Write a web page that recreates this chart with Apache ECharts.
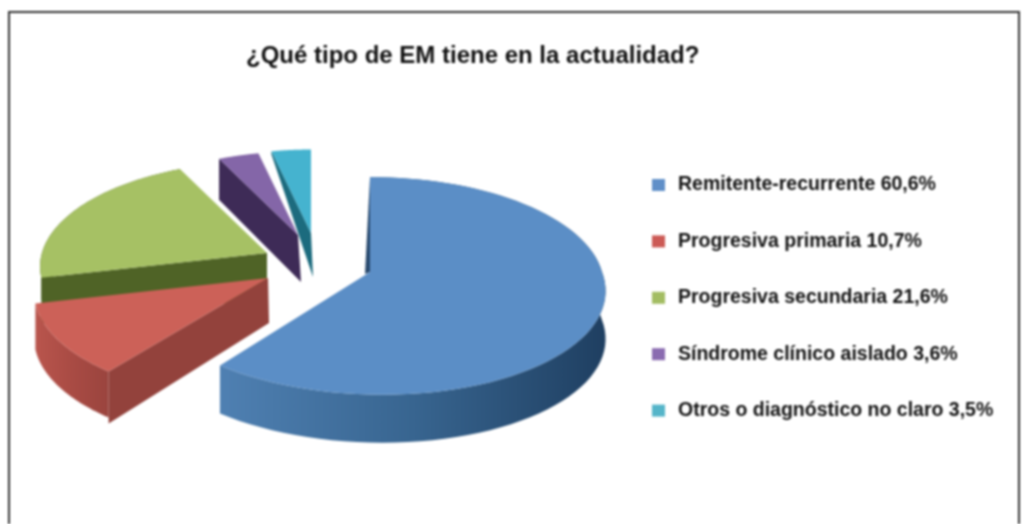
<!DOCTYPE html>
<html>
<head>
<meta charset="utf-8">
<title>Tipo de EM</title>
<script src="https://cdn.jsdelivr.net/npm/echarts@6/dist/echarts.min.js"></script>
<style>
  html, body { margin: 0; padding: 0; background: #fff; }
  #chart { width: 1025px; height: 524px; filter: blur(0.8px); }
</style>
</head>
<body>
<div id="chart"></div>
<script>
var titleText = '¿Qué tipo de EM tiene en la actualidad?';
var categories = ['Remitente-recurrente', 'Progresiva primaria', 'Progresiva secundaria', 'Síndrome clínico aislado', 'Otros o diagnóstico no claro'];
var percentText = ['60,6%', '10,7%', '21,6%', '3,6%', '3,5%'];
var values = [60.6, 10.7, 21.6, 3.6, 3.5];

// look of the exploded 3d slices, one row per slice
var topColors = ['#5b8ec6', '#cc6158', '#a6c164', '#8466a8', '#45b3cf'];
var legendColors = ['#5f8fc8', '#cc5a55', '#a3bd62', '#8a6bb0', '#55b5c9'];
var sideStops = [
  ['#4f80b2', '#386590', '#1f3f61'],
  ['#b9554d', '#a94b44', '#9a443e'],
  ['#4f6326', '#4f6326', '#4f6326']
];
var wallColors = ['#28496e', '#93423c', '#4f6326', '#3e2b57', '#1c6b7e'];
var apexX = [370, 268, 267, 298, 311];
var apexY = [272, 278, 253, 235, 233];
var scales = [1, 1, 0.97, 0.88, 0.88];
var depths = [48, 46, 46, 42, 44];
var shears = [0.1, 0, 0, 0, 0];
var layers = [5, 4, 3, 2, 1];
// cut wall of each slice: depth at rim, depth at apex, apex shift
var walls = [[0, 2, -5], [52, 45, 1], [46, 46, 0], [41, 47, 3], [3, 44, 2]];

var radiusX = 232, tiltY = 107, persp = 0.128;

function project(i, frac) {
  var a = frac * 2 * Math.PI;
  var X = Math.sin(a), Y = -Math.cos(a);
  var den = 1 - persp * Y;
  var y = tiltY * Y / den * scales[i];
  var x = radiusX * X / den * scales[i] + shears[i] * Math.max(y, 0);
  return [apexX[i] + x, apexY[i] + y];
}

var total = 0;
values.forEach(function (v) { total += v; });
var starts = [];
var run = 0;
values.forEach(function (v) { starts.push(run); run += v / total; });

function renderSlice(i) {
  return function () {
    var from = starts[i], to = from + values[i] / total;
    var rim = [];
    for (var s = 0; s <= 80; s++) rim.push(project(i, from + (to - from) * s / 80));
    var lower = rim.map(function (p) { return [p[0], p[1] + depths[i]]; }).reverse();
    var apex = [apexX[i], apexY[i]];
    var w = walls[i];
    var edge = rim[0];
    var wall = [edge, apex, [apex[0] + w[2], apex[1] + w[1]], [edge[0], edge[1] + w[0]]];
    var children = [];
    // the two small back slices show no outer side
    if (sideStops[i]) {
      var stops = sideStops[i];
      children.push({
        type: 'polygon',
        shape: { points: rim.concat(lower) },
        style: {
          fill: new echarts.graphic.LinearGradient(0, 0, 1, 0, [
            { offset: 0, color: stops[0] },
            { offset: 0.5, color: stops[1] },
            { offset: 1, color: stops[2] }
          ])
        }
      });
    }
    children.push({ type: 'polygon', shape: { points: wall }, style: { fill: wallColors[i] } });
    children.push({ type: 'polygon', shape: { points: rim.concat([apex]) }, style: { fill: topColors[i] } });
    return { type: 'group', children: children };
  };
}

var chart = echarts.init(document.getElementById('chart'));
var option = {
  animation: false,
  backgroundColor: '#fff',
  title: {
    text: titleText,
    left: 241,
    top: 39,
    textStyle: { fontFamily: 'Liberation Sans', fontSize: 24, fontWeight: 'bold', color: '#111' }
  },
  legend: {
    orient: 'vertical',
    left: 647,
    top: 170,
    icon: 'rect',
    itemWidth: 13,
    itemHeight: 12,
    itemGap: 36.4,
    selectedMode: false,
    textStyle: { fontFamily: 'Liberation Sans', fontSize: 19.5, fontWeight: 'bold', color: '#111', padding: [0, 0, 0, 8] }
  },
  graphic: [{
    type: 'rect',
    silent: true,
    shape: { x: 9, y: 12, width: 1010, height: 530 },
    style: { fill: 'none', stroke: '#333', lineWidth: 2 }
  }],
  series: categories.map(function (name, i) {
    return {
      type: 'custom',
      name: name + ' ' + percentText[i],
      coordinateSystem: 'none',
      z: layers[i],
      silent: true,
      itemStyle: { color: legendColors[i] },
      data: [values[i]],
      renderItem: renderSlice(i)
    };
  })
};
chart.setOption(option);
</script>
</body>
</html>
